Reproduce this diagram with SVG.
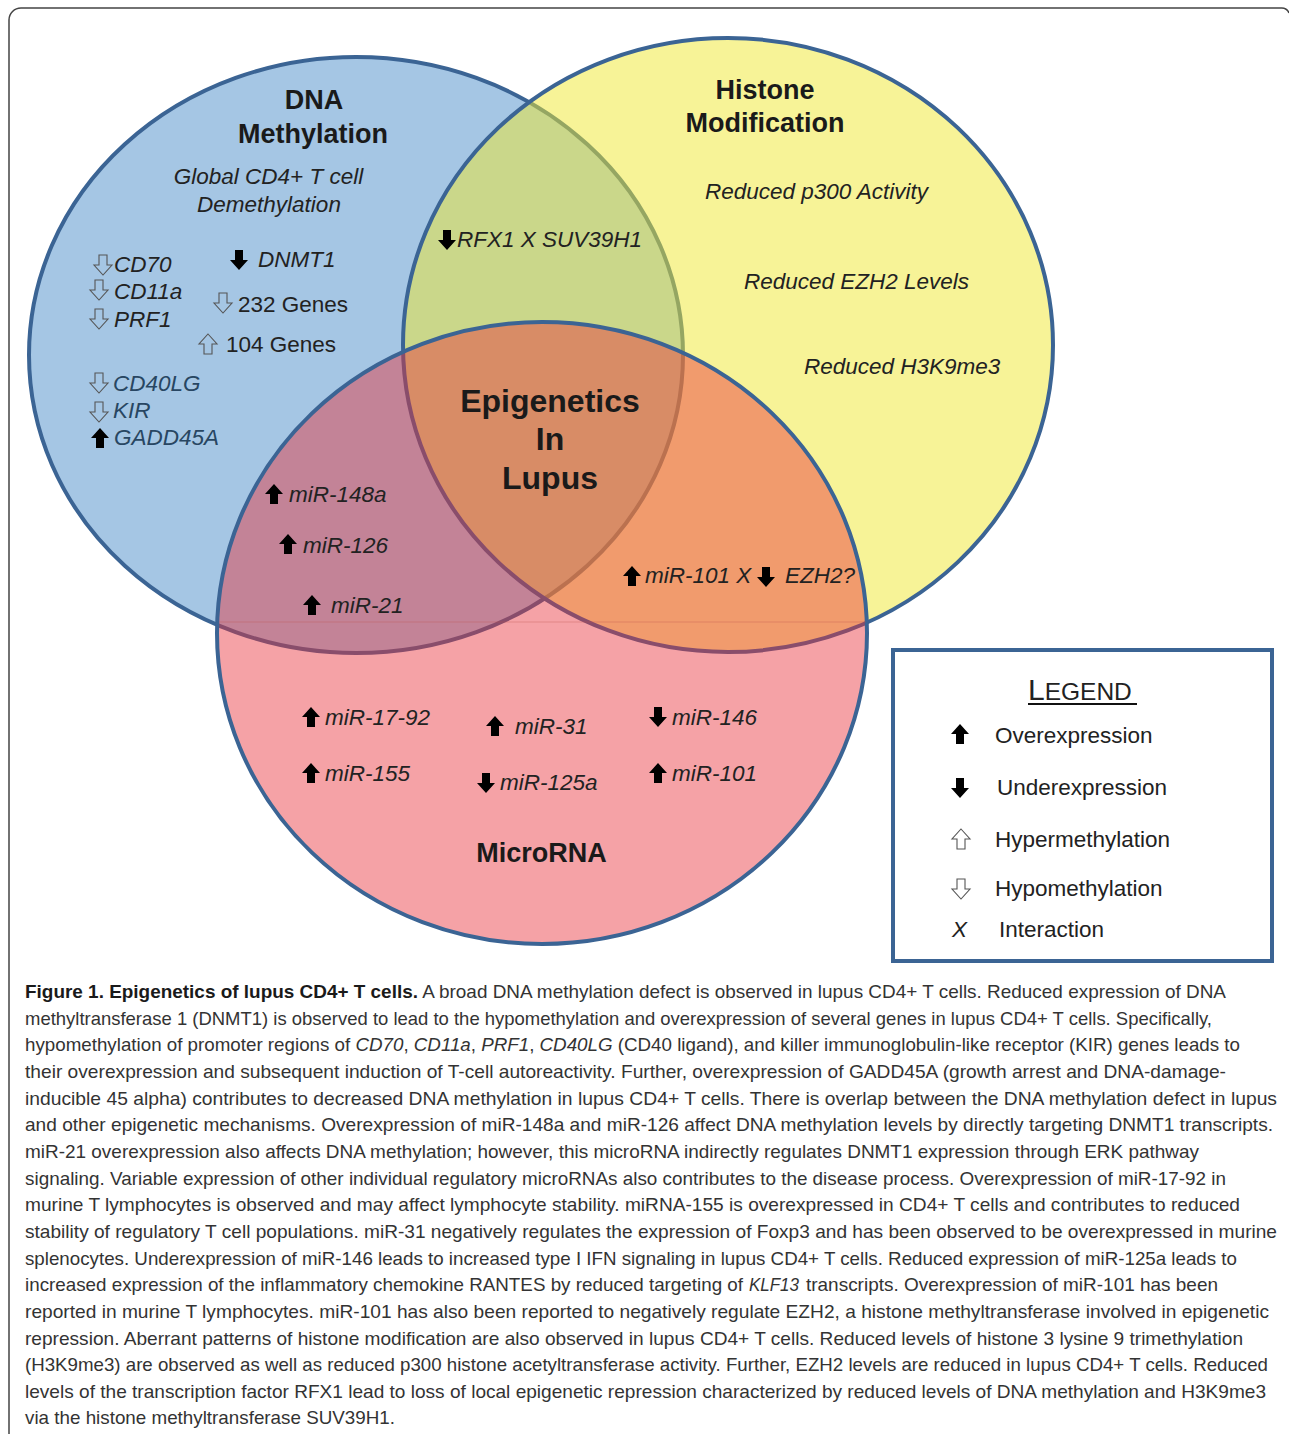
<svg xmlns="http://www.w3.org/2000/svg" width="1289" height="1434" viewBox="0 0 1289 1434">
<style>
text{font-family:"Liberation Sans",Arial,sans-serif;fill:#222}
.title{font-size:27px;font-weight:bold;fill:#1a1a1a;text-anchor:middle}
.ctr{font-size:32px;font-weight:bold;fill:#1a1a1a;text-anchor:middle}
.it{font-size:22.5px;font-style:italic}
.bl{fill:#284662}
.rg{font-size:22.5px}
.lg{font-size:22.5px}
.cap{font-size:19px;fill:#333}
.solid{fill:#000}
.hollow{fill:none;stroke:#555;stroke-width:1.1}
.venn{stroke:#3b6494;stroke-width:4}
</style>
<defs>
<polygon id="up" points="9,0 18,10 13,10 13,20 5,20 5,10 0,10"/>
<polygon id="dn" points="5,0 13,0 13,10 18,10 9,20 0,10 5,10"/>
</defs>
<rect width="1289" height="1434" fill="#fff"/>
<path d="M9,1434 V20 A12,12 0 0 1 21,8 H1281 A8,8 0 0 1 1289,13" fill="none" stroke="#444" stroke-width="1.5"/>

<g id="venn-circles">
<ellipse class="venn" cx="356" cy="355" rx="327" ry="298" fill="#a5c6e4"/>
<ellipse class="venn" cx="728" cy="345" rx="325" ry="307" fill="#efe830" fill-opacity="0.5"/>
<ellipse class="venn" cx="542" cy="633" rx="325" ry="311" fill="#e93039" fill-opacity="0.45"/>
<line x1="219" y1="622" x2="866" y2="622" stroke="#c0504d" stroke-opacity="0.35" stroke-width="1"/>
</g>

<g id="connectors"></g>

<g id="dna-methylation">
<text class="title" x="314" y="109">DNA</text>
<text class="title" x="313" y="143">Methylation</text>
<text class="it" x="268.5" y="184" text-anchor="middle">Global CD4+ T cell</text>
<text class="it" x="269" y="212" text-anchor="middle">Demethylation</text>
<use href="#dn" class="hollow" x="94" y="255"/><text class="it" x="114" y="272">CD70</text>
<use href="#dn" class="hollow" x="90" y="280"/><text class="it" x="114" y="299">CD11a</text>
<use href="#dn" class="hollow" x="90" y="309"/><text class="it" x="114" y="327">PRF1</text>
<use href="#dn" class="solid" x="230" y="250"/><text class="it" x="258" y="267">DNMT1</text>
<use href="#dn" class="hollow" x="214" y="293"/><text class="rg" x="238" y="312">232 Genes</text>
<use href="#up" class="hollow" x="199" y="334"/><text class="rg" x="226" y="352">104 Genes</text>
<use href="#dn" class="hollow" x="90" y="373"/><text class="it bl" x="113" y="391">CD40LG</text>
<use href="#dn" class="hollow" x="90" y="402"/><text class="it bl" x="113" y="418">KIR</text>
<use href="#up" class="solid" x="91" y="428"/><text class="it bl" x="114" y="445">GADD45A</text>
</g>

<g id="histone-modification">
<text class="title" x="765" y="99">Histone</text>
<text class="title" x="765" y="132">Modification</text>
<text class="it" x="705" y="199">Reduced p300 Activity</text>
<text class="it" x="744" y="289">Reduced EZH2 Levels</text>
<text class="it" x="804" y="374">Reduced H3K9me3</text>
</g>

<g id="dna-histone-overlap">
<use href="#dn" class="solid" x="438" y="230"/><text class="it" x="457" y="247">RFX1 X SUV39H1</text>
</g>

<g id="epigenetics-in-lupus">
<text class="ctr" x="550" y="412">Epigenetics</text>
<text class="ctr" x="550" y="450">In</text>
<text class="ctr" x="550" y="489">Lupus</text>
</g>

<g id="dna-microrna-overlap">
<use href="#up" class="solid" x="265" y="484"/><text class="it" x="289" y="502">miR-148a</text>
<use href="#up" class="solid" x="279" y="534"/><text class="it" x="303" y="553">miR-126</text>
<use href="#up" class="solid" x="303" y="595"/><text class="it" x="331" y="613">miR-21</text>
</g>

<g id="histone-microrna-overlap">
<use href="#up" class="solid" x="623" y="566"/><text class="it" x="645" y="583">miR-101 X</text>
<use href="#dn" class="solid" x="757" y="567"/><text class="it" x="785" y="583">EZH2?</text>
</g>

<g id="microrna">
<use href="#up" class="solid" x="302" y="707"/><text class="it" x="325" y="725">miR-17-92</text>
<use href="#up" class="solid" x="486" y="716"/><text class="it" x="515" y="734">miR-31</text>
<use href="#dn" class="solid" x="649" y="707"/><text class="it" x="672" y="725">miR-146</text>
<use href="#up" class="solid" x="302" y="763"/><text class="it" x="325" y="781">miR-155</text>
<use href="#dn" class="solid" x="477" y="773"/><text class="it" x="500" y="790">miR-125a</text>
<use href="#up" class="solid" x="649" y="763"/><text class="it" x="672" y="781">miR-101</text>
<text class="title" x="541.5" y="862">MicroRNA</text>
</g>

<g id="legend">
<rect x="893" y="650" width="379" height="311" fill="#fff" stroke="#3b6494" stroke-width="4"/>
<text x="1028" y="700"><tspan font-size="30">L</tspan><tspan font-size="24.5">EGEND</tspan></text>
<line x1="1028" y1="704" x2="1137" y2="704" stroke="#111" stroke-width="2"/>
<use href="#up" class="solid" x="951" y="724"/><text class="lg" x="995" y="743">Overexpression</text>
<use href="#dn" class="solid" x="951" y="778"/><text class="lg" x="997" y="795">Underexpression</text>
<use href="#up" class="hollow" x="952" y="829"/><text class="lg" x="995" y="847">Hypermethylation</text>
<use href="#dn" class="hollow" x="952" y="879"/><text class="lg" x="995" y="896">Hypomethylation</text>
<text class="lg" x="952" y="937" font-style="italic">X</text><text class="lg" x="999" y="937">Interaction</text>
</g>

<g id="caption" class="cap">
<text class="cap" x="25" y="998" textLength="1201" lengthAdjust="spacingAndGlyphs"><tspan font-weight="bold" fill="#1a1a1a">Figure 1. Epigenetics of lupus CD4+ T cells.</tspan> A broad DNA methylation defect is observed in lupus CD4+ T cells. Reduced expression of DNA</text>
<text class="cap" x="25" y="1024.7" textLength="1187" lengthAdjust="spacingAndGlyphs">methyltransferase 1 (DNMT1) is observed to lead to the hypomethylation and overexpression of several genes in lupus CD4+ T cells. Specifically,</text>
<text class="cap" x="25" y="1051.3" textLength="1215" lengthAdjust="spacingAndGlyphs">hypomethylation of promoter regions of <tspan font-style="italic">CD70</tspan>, <tspan font-style="italic">CD11a</tspan>, <tspan font-style="italic">PRF1</tspan>, <tspan font-style="italic">CD40LG</tspan> (CD40 ligand), and killer immunoglobulin-like receptor (KIR) genes leads to</text>
<text class="cap" x="25" y="1078" textLength="1201" lengthAdjust="spacingAndGlyphs">their overexpression and subsequent induction of T-cell autoreactivity. Further, overexpression of GADD45A (growth arrest and DNA-damage-</text>
<text class="cap" x="25" y="1104.6" textLength="1252" lengthAdjust="spacingAndGlyphs">inducible 45 alpha) contributes to decreased DNA methylation in lupus CD4+ T cells. There is overlap between the DNA methylation defect in lupus</text>
<text class="cap" x="25" y="1131.3" textLength="1248" lengthAdjust="spacingAndGlyphs">and other epigenetic mechanisms. Overexpression of miR-148a and miR-126 affect DNA methylation levels by directly targeting DNMT1 transcripts.</text>
<text class="cap" x="25" y="1157.9" textLength="1174" lengthAdjust="spacingAndGlyphs">miR-21 overexpression also affects DNA methylation; however, this microRNA indirectly regulates DNMT1 expression through ERK pathway</text>
<text class="cap" x="25" y="1184.6" textLength="1201" lengthAdjust="spacingAndGlyphs">signaling. Variable expression of other individual regulatory microRNAs also contributes to the disease process. Overexpression of miR-17-92 in</text>
<text class="cap" x="25" y="1211.2" textLength="1215" lengthAdjust="spacingAndGlyphs">murine T lymphocytes is observed and may affect lymphocyte stability. miRNA-155 is overexpressed in CD4+ T cells and contributes to reduced</text>
<text class="cap" x="25" y="1237.9" textLength="1252" lengthAdjust="spacingAndGlyphs">stability of regulatory T cell populations. miR-31 negatively regulates the expression of Foxp3 and has been observed to be overexpressed in murine</text>
<text class="cap" x="25" y="1264.5" textLength="1212" lengthAdjust="spacingAndGlyphs">splenocytes. Underexpression of miR-146 leads to increased type I IFN signaling in lupus CD4+ T cells. Reduced expression of miR-125a leads to</text>
<text class="cap" x="25" y="1291.2" textLength="718" lengthAdjust="spacingAndGlyphs">increased expression of the inflammatory chemokine RANTES by reduced targeting of</text>
<text class="cap" x="749" y="1291.2" textLength="50" lengthAdjust="spacingAndGlyphs" font-style="italic">KLF13</text>
<text class="cap" x="806" y="1291.2" textLength="412" lengthAdjust="spacingAndGlyphs">transcripts. Overexpression of miR-101 has been</text>
<text class="cap" x="25" y="1317.8" textLength="1244" lengthAdjust="spacingAndGlyphs">reported in murine T lymphocytes. miR-101 has also been reported to negatively regulate EZH2, a histone methyltransferase involved in epigenetic</text>
<text class="cap" x="25" y="1344.5" textLength="1218" lengthAdjust="spacingAndGlyphs">repression. Aberrant patterns of histone modification are also observed in lupus CD4+ T cells. Reduced levels of histone 3 lysine 9 trimethylation</text>
<text class="cap" x="25" y="1371.1" textLength="1243" lengthAdjust="spacingAndGlyphs">(H3K9me3) are observed as well as reduced p300 histone acetyltransferase activity. Further, EZH2 levels are reduced in lupus CD4+ T cells. Reduced</text>
<text class="cap" x="25" y="1397.8" textLength="1241" lengthAdjust="spacingAndGlyphs">levels of the transcription factor RFX1 lead to loss of local epigenetic repression characterized by reduced levels of DNA methylation and H3K9me3</text>
<text class="cap" x="25" y="1424.4" textLength="370" lengthAdjust="spacingAndGlyphs">via the histone methyltransferase SUV39H1.</text>
</g>
</svg>
